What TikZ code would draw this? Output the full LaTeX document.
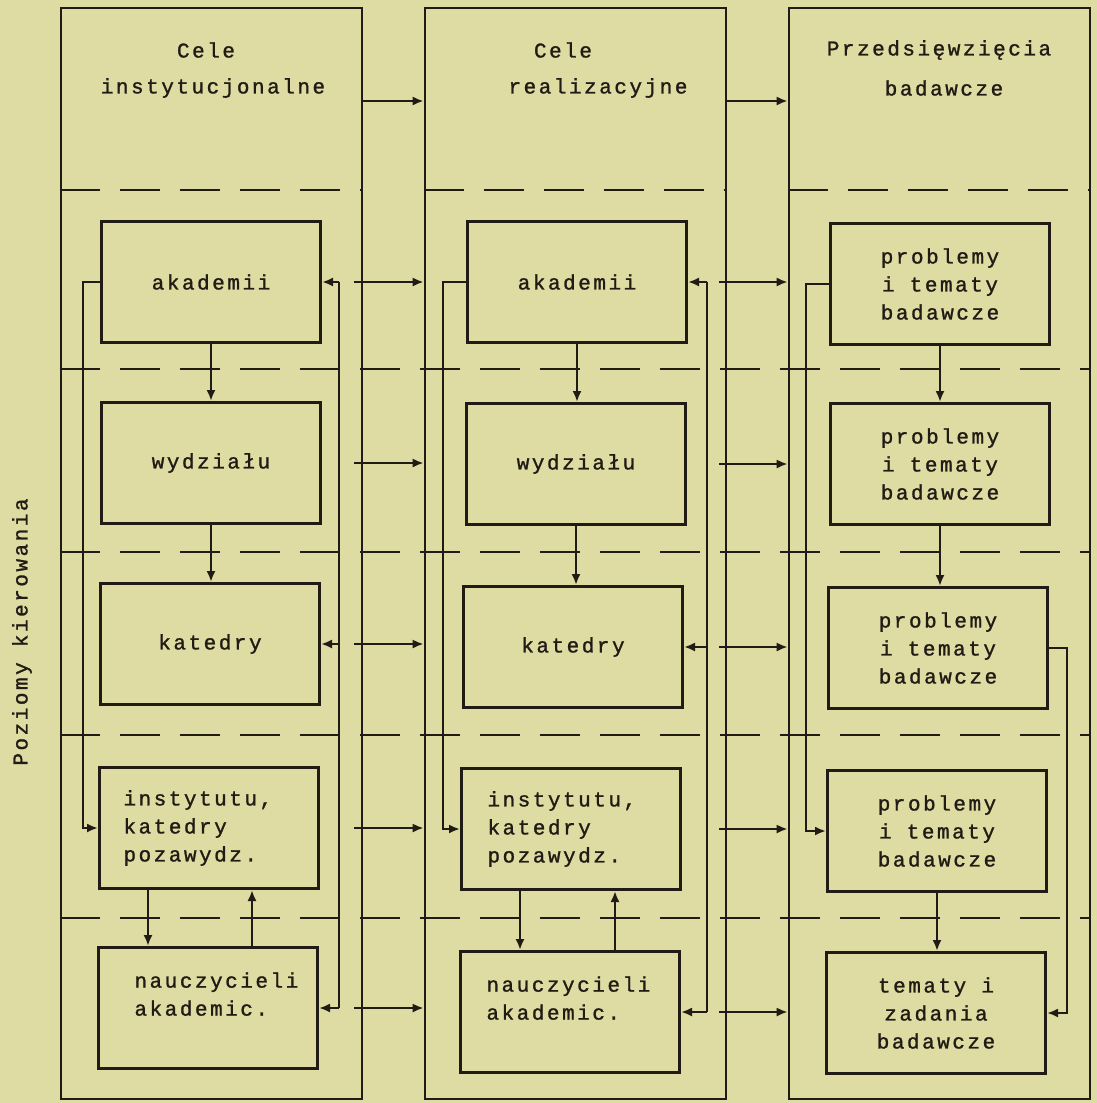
\documentclass[tikz,border=0pt]{standalone}
\usepackage{fontspec}
\setmonofont{Liberation Mono}
\newfontfamily\tw{Liberation Mono}[LetterSpace=12,FakeBold=1.2]
\usetikzlibrary{arrows.meta}
\definecolor{paper}{RGB}{222,220,162}
\definecolor{ink}{RGB}{32,27,20}
\begin{document}
\begin{tikzpicture}[x=1pt,y=-1pt,
  colbox/.style={draw=ink, line width=2.6pt, minimum width=301pt, minimum height=1091pt, inner sep=0pt},
  lvbox/.style={draw=ink, line width=3pt, minimum width=219pt, minimum height=121pt, inner sep=0pt,
     font=\tw\fontsize{21}{28}\selectfont, text=ink, align=center},
  lft/.style={text width=#1, align=left},
  conn/.style={draw=ink, line width=2.3pt, -{Latex[length=11pt,width=9pt]}},
  wire/.style={draw=ink, line width=2.4pt},
  level/.style={draw=ink, line width=2.5pt, dash pattern=on 40pt off 20pt},
  hdr/.style={font=\tw\fontsize{21}{28}\selectfont, text=ink, inner sep=0pt},
]
\fill[paper] (0,0) rectangle (1097,1103);
\useasboundingbox (0,0) rectangle (1097,1103);

% columns
\node[colbox] (c1) at (211.5,553.5) {};
\node[colbox] (c2) at (575.5,553.5) {};
\node[colbox] (c3) at (939.5,553.5) {};

% headers
\node[hdr] (h1a) at (206,50) {Cele};
\node[hdr] (h1b) at (213,88) {instytucjonalne};
\node[hdr] (h2a) at (563,50) {Cele};
\node[hdr] (h2b) at (598,88) {realizacyjne};
\node[hdr] (h3a) at (939,50) {Przedsięwzięcia};
\node[hdr] (h3b) at (944,88) {badawcze};

\node[hdr, rotate=90] (lab) at (22,632) {Poziomy kierowania};

% coordinates for lines
\coordinate (t) at (0,101);
\coordinate (d) at (0,190);
\coordinate (lv1) at (0,369);
\coordinate (lv2) at (0,552);
\coordinate (lv3) at (0,735);
\coordinate (lv4) at (0,918);

% dashed separators
\foreach \c in {c1,c2,c3}{
  \draw[level] (\c.west |- d) -- (\c.east |- d);
}
\foreach \l in {lv1,lv2,lv3,lv4}{
  \draw[level] (c1.west |- \l) -- (c3.east |- \l);
}

% top arrows
\draw[conn] (c1.east |- t) -- (c2.west |- t);
\draw[conn] (c2.east |- t) -- (c3.west |- t);

% column 1 boxes
\node[lvbox] (a1) at (211,282) {akademii};
\node[lvbox] (w1) at (211,463) {wydziału};
\node[lvbox] (k1) at (210,644) {katedry};
\node[lvbox, lft=171pt, inner xsep=24pt] (i1) at (209,828) {instytutu,\\katedry\\pozawydz.};
\node[lvbox, lft=147pt, inner xsep=36pt] (n1) at (208,1008) {nauczycieli\\akademic.\\\mbox{}};

% column 2 boxes
\node[lvbox] (a2) at (577,282) {akademii};
\node[lvbox] (w2) at (576,464) {wydziału};
\node[lvbox] (k2) at (573,647) {katedry};
\node[lvbox, lft=167pt, inner xsep=26pt] (i2) at (571,829) {instytutu,\\katedry\\pozawydz.};
\node[lvbox, lft=167pt, inner xsep=26pt] (n2) at (570,1012) {nauczycieli\\akademic.\\\mbox{}};

% column 3 boxes
\node[lvbox] (b1) at (940,284) {problemy\\i tematy\\badawcze};
\node[lvbox] (b2) at (940,464) {problemy\\i tematy\\badawcze};
\node[lvbox] (b3) at (938,648) {problemy\\i tematy\\badawcze};
\node[lvbox] (b4) at (937,831) {problemy\\i tematy\\badawcze};
\node[lvbox] (b5) at (936,1013) {tematy i\\zadania\\badawcze};

% vertical arrows inside columns
\draw[conn] (a1.south) -- (a1.south |- w1.north);
\draw[conn] (w1.south) -- (w1.south |- k1.north);
\draw[conn] (a2.south) -- (a2.south |- w2.north);
\draw[conn] (w2.south) -- (w2.south |- k2.north);
\draw[conn] (b1.south) -- (b1.south |- b2.north);
\draw[conn] (b2.south) -- (b2.south |- b3.north);
\draw[conn] (b4.south) -- (b4.south |- b5.north);

\coordinate (p1) at ([xshift=-61pt]i1.south);
\coordinate (q1) at ([xshift=44pt]n1.north);
\draw[conn, line width=2.8pt] (p1) -- (p1 |- n1.north);
\draw[conn] (q1) -- (q1 |- i1.south);
\coordinate (p2) at ([xshift=-51pt]i2.south);
\coordinate (q2) at ([xshift=45pt]n2.north);
\draw[conn] (p2) -- (p2 |- n2.north);
\draw[conn] (q2) -- (q2 |- i2.south);

% left feedback lines
\coordinate (l1) at (83,500);
\coordinate (l2) at (443,500);
\coordinate (l3) at (806,500);
\draw[conn] (a1.west) -| (l1) |- (i1.west);
\draw[conn] (a2.west) -| (l2) |- (i2.west);
\draw[conn] (b1.west) -| (l3) |- (b4.west);

% right feedback lines
\coordinate (r1) at (339,500);
\coordinate (r2) at (707,500);
\coordinate (r3) at (1067,800);
\draw[wire] (r1 |- a1.east) -- (r1 |- n1.east);
\draw[conn] (r1 |- a1.east) -- (a1.east);
\draw[conn] (r1 |- k1.east) -- (k1.east);
\draw[conn] (r1 |- n1.east) -- (n1.east);
\draw[wire] (r2 |- a2.east) -- (r2 |- n2.east);
\draw[conn] (r2 |- a2.east) -- (a2.east);
\draw[conn] (r2 |- k2.east) -- (k2.east);
\draw[conn] (r2 |- n2.east) -- (n2.east);
\draw[conn] (b3.east) -| (r3) |- (b5.east);

% arrows between columns
\coordinate (s1) at ([xshift=-9pt]c1.east);
\coordinate (s2) at ([xshift=-8pt]c2.east);
\foreach \x in {a1,w1,k1,i1,n1}{
  \draw[conn] (s1 |- \x.east) -- (c2.west |- \x.east);
}
\foreach \x in {a2,w2,k2,i2,n2}{
  \draw[conn] (s2 |- \x.east) -- (c3.west |- \x.east);
}
\end{tikzpicture}
\end{document}
